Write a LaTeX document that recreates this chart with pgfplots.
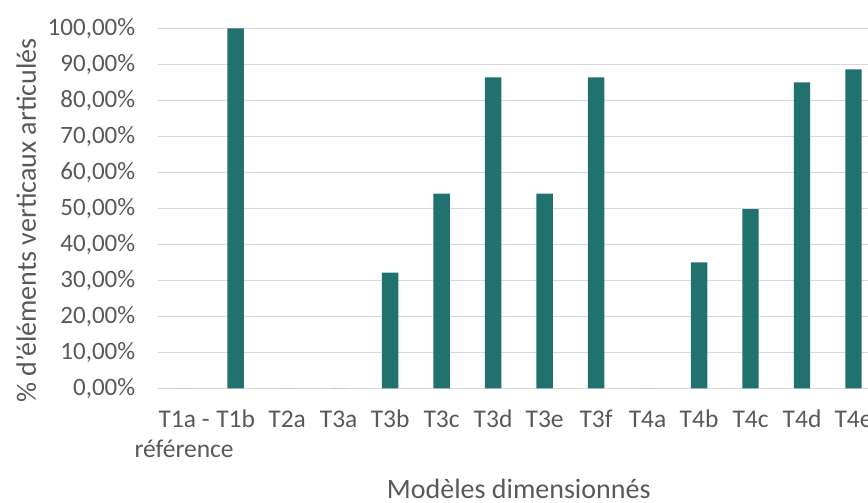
\documentclass[border=0pt]{standalone}
\usepackage{fontspec}
\setmainfont{Carlito}
\usepackage{pgfplots}
\pgfplotsset{compat=1.18}
\definecolor{barc}{HTML}{21726F}
\definecolor{txt}{HTML}{595959}
\definecolor{gridc}{HTML}{D9D9D9}
\begin{document}
\begin{tikzpicture}
\useasboundingbox (0,0) rectangle (868pt,503pt);
\begin{axis}[
  at={(158.4pt,114.7pt)}, anchor=south west,
  scale only axis,
  width=709.6pt, height=360pt,
  xmin=-0.5, xmax=13.28,
  ymin=0, ymax=100,
  ytick={0,10,...,100},
  yticklabels={{0,00\%},{10,00\%},{20,00\%},{30,00\%},{40,00\%},{50,00\%},{60,00\%},{70,00\%},{80,00\%},{90,00\%},{100,00\%}},
  xtick={0,...,13},
  xticklabels={{\begin{tabular}[t]{@{}c@{}}T1a -\\référence\end{tabular}},T1b,T2a,T3a,T3b,T3c,T3d,T3e,T3f,T4a,T4b,T4c,T4d,T4e},
  axis line style={draw=none},
  major tick length=0pt,
  ymajorgrids,
  grid style={gridc, line width=1.3pt},
  ybar, bar width=16.3pt,
  yticklabel style={font=\fontsize{25}{30}\selectfont, text=txt, anchor=east, inner sep=0pt, xshift=-23pt},
  xticklabel style={font=\fontsize{25.5}{30}\selectfont, text=txt, anchor=base, inner sep=0pt, yshift=-39.3pt},
  xlabel={Modèles dimensionnés},
  ylabel={\% d'éléments verticaux articulés},
  xlabel style={font=\fontsize{28}{33}\selectfont, text=txt, at={(axis description cs:0.5078,-0.3056)}, anchor=base, inner sep=0pt},
  ylabel style={font=\fontsize{28}{33}\selectfont, text=txt, at={(axis description cs:-0.1725,0.4656)}, anchor=base, rotate=0, inner sep=0pt},
]
\addplot[fill=barc, draw=none] coordinates {
  (0,0) (1,100) (2,0) (3,0) (4,32.1) (5,54.05) (6,86.4) (7,54.05)
  (8,86.4) (9,0) (10,35.0) (11,49.8) (12,85.0) (13,88.6)
};
\end{axis}
\end{tikzpicture}
\end{document}
